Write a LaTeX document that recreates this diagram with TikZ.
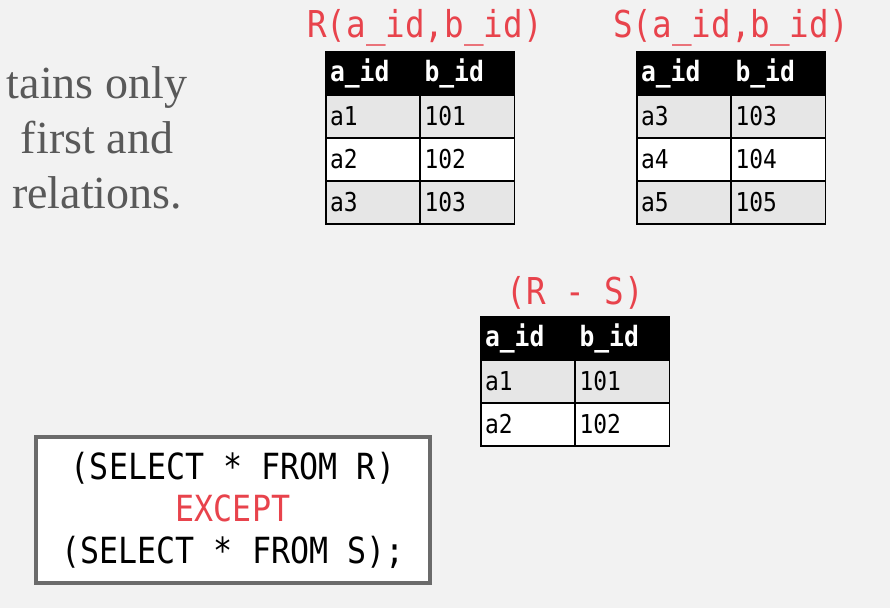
\documentclass[tikz,border=0pt]{standalone}
\usepackage{fontspec}
\setmainfont{Liberation Serif}
\newfontfamily\codefont[FakeStretch=0.88]{DejaVu Sans Mono}
\definecolor{slidebg}{HTML}{F2F2F2}
\definecolor{keyred}{HTML}{E8434C}
\definecolor{rowgray}{HTML}{E6E6E6}
\definecolor{boxgray}{HTML}{6B6B6B}
\tikzset{
  cell/.style={draw=black, line width=1.5pt, minimum height=43pt, text width=86pt,
    inner xsep=4pt, align=left, font=\codefont\fontsize{26}{29}\selectfont},
  hd/.style={cell, fill=black, text=white, font=\codefont\bfseries\fontsize{28}{31}\selectfont},
  rowg/.style={cell, fill=rowgray},
  roww/.style={cell, fill=white},
  title/.style={text=keyred, font=\codefont\fontsize{37}{42}\selectfont}
}
\begin{document}
\begin{tikzpicture}[x=1pt,y=-1pt]
\useasboundingbox (0,0) rectangle (890,608);
\fill[slidebg] (0,0) rectangle (890,608);

\node[text=black!65, font=\fontsize{46}{55}\selectfont, align=center] (txt) at (97,138)
  {tains only\\first and\\relations.};

% R
\node[title] (rtitle) at (425,28) {R(a\_id,b\_id)};
\node[hd] (ra0) at (373,73.5) {a\_id};
\node[hd] (rb0) at (467.5,73.5) {b\_id};
\node[rowg] (ra1) at (373,116.5) {a1};
\node[rowg] (rb1) at (467.5,116.5) {101};
\node[roww] (ra2) at (373,159.5) {a2};
\node[roww] (rb2) at (467.5,159.5) {102};
\node[rowg] (ra3) at (373,202.5) {a3};
\node[rowg] (rb3) at (467.5,202.5) {103};

% S
\node[title] (stitle) at (731,28) {S(a\_id,b\_id)};
\node[hd] (sa0) at (684,73.5) {a\_id};
\node[hd] (sb0) at (778.5,73.5) {b\_id};
\node[rowg] (sa1) at (684,116.5) {a3};
\node[rowg] (sb1) at (778.5,116.5) {103};
\node[roww] (sa2) at (684,159.5) {a4};
\node[roww] (sb2) at (778.5,159.5) {104};
\node[rowg] (sa3) at (684,202.5) {a5};
\node[rowg] (sb3) at (778.5,202.5) {105};

% R - S
\node[title] (dtitle) at (575,293) {(R - S)};
\node[hd] (da0) at (528,338.5) {a\_id};
\node[hd] (db0) at (622.5,338.5) {b\_id};
\node[rowg] (da1) at (528,381.5) {a1};
\node[rowg] (db1) at (622.5,381.5) {101};
\node[roww] (da2) at (528,424.5) {a2};
\node[roww] (db2) at (622.5,424.5) {102};

% query
\node[draw=boxgray, line width=3.5pt, fill=white, minimum width=394pt, minimum height=146pt,
  align=center, font=\codefont\fontsize{36}{42}\selectfont] (query) at (233,510)
  {(SELECT * FROM R)\\\textcolor{keyred}{EXCEPT}\\(SELECT * FROM S);};

\end{tikzpicture}
\end{document}
